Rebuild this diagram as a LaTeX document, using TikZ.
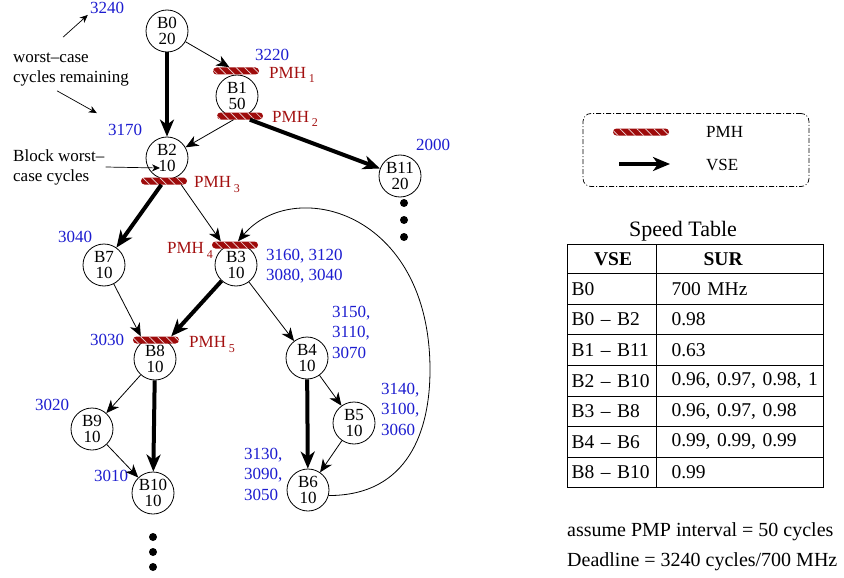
\documentclass[tikz,border=0pt]{standalone}
\usepackage{fontspec}
\setmainfont{Liberation Serif}
\usetikzlibrary{arrows.meta,positioning,patterns.meta,matrix}
\definecolor{PmhRed}{HTML}{9E0B0B}
\definecolor{PmhText}{HTML}{A31010}
\definecolor{CycleBlue}{HTML}{1C1CCF}
\newcommand{\pmh}[1]{PMH\,\raisebox{-5pt}{\fontsize{12}{12}\selectfont #1}}

\begin{document}
\begin{tikzpicture}[x=1pt,y=-1pt,
blk/.style={draw,circle,minimum size=42pt,inner sep=0pt,line width=0.8pt,align=center,font=\fontsize{17}{16}\selectfont},
pmhbar/.style={rounded corners=3.5pt,minimum width=46pt,minimum height=7pt,inner sep=0pt,preaction={fill=PmhRed},pattern={Lines[angle=-45,distance=6pt,line width=0.7pt]},pattern color=white!85!PmhRed},
pmhlbl/.style={text=PmhText,font=\fontsize{17}{17}\selectfont,inner sep=1pt},
cyc/.style={text=CycleBlue,font=\fontsize{17}{20.5}\selectfont,inner sep=1pt,align=left},
note/.style={font=\fontsize{17}{20}\selectfont,inner sep=1pt,align=left},
arr/.style={-{Stealth[length=13pt,width=11pt,inset=4pt]},line width=0.8pt},
vse/.style={-{Stealth[length=17pt,width=14pt,inset=5pt]},line width=4pt},
pointer/.style={-{Stealth[length=8pt,width=7pt,inset=2.5pt]},line width=0.7pt}
]
\useasboundingbox (0,0) rectangle (844,578);
% basic blocks
\node[blk] (b0) at (167,31) {B0\\20};
\node[blk] (b1) at (237,96) {B1\\50};
\node[blk] (b2) at (167,158) {B2\\10};
\node[blk] (b11) at (400,176) {B11\\20};
\node[blk] (b7) at (104,265) {B7\\10};
\node[blk] (b3) at (236,265) {B3\\10};
\node[blk] (b8) at (155,359) {B8\\10};
\node[blk] (b4) at (307,358) {B4\\10};
\node[blk] (b9) at (92,429) {B9\\10};
\node[blk] (b5) at (354,423) {B5\\10};
\node[blk] (b10) at (153,493) {B10\\10};
\node[blk] (b6) at (308,490) {B6\\10};
% power management hints
\node[pmhbar] (p1) at (236,71) {};
\node[pmhbar] (p2) at (240,116) {};
\node[pmhbar] (p3) at (164,181) {};
\node[pmhbar] (p4) at (235,245) {};
\node[pmhbar] (p5) at (156,340) {};
\node[pmhlbl,anchor=base west] (lp1) at (268,78) {\pmh{1}};
\node[pmhlbl,anchor=base west] (lp2) at (271,122) {\pmh{2}};
\node[pmhlbl,anchor=base west] (lp3) at (193,187) {\pmh{3}};
\node[pmhlbl,anchor=base east] (lp4) at (214,253) {\pmh{4}};
\node[pmhlbl,anchor=base west] (lp5) at (188,347) {\pmh{5}};
% worst-case cycles remaining
\node[cyc] (l3240) at (107,8) {3240};
\node[cyc] (l3220) at (272,55) {3220};
\node[cyc] (l3170) at (125,130) {3170};
\node[cyc] (l2000) at (433,145) {2000};
\node[cyc] (l3040) at (75,237) {3040};
\node[cyc,anchor=west] (lb3) at (265,266) {3160, 3120\\3080, 3040};
\node[cyc,anchor=west] (lb4) at (331,332) {3150,\\3110,\\3070};
\node[cyc] (l3030) at (107,340) {3030};
\node[cyc] (l3020) at (52,405) {3020};
\node[cyc] (l3010) at (111,476) {3010};
\node[cyc,anchor=west] (lb5) at (380,409) {3140,\\3100,\\3060};
\node[cyc,anchor=west] (lb6) at (243,474) {3130,\\3090,\\3050};
% notes
\node[note,anchor=west] (wcr) at (12,70) {worst--case\\cycles remaining};
\node[note,anchor=west] (bwc) at (12,167) {Block worst--\\case cycles};
\draw[pointer] ([shift={(-8,-15)}]wcr.north) -- ([shift={(-1,0)}]l3240.south west);
\draw[pointer] ([shift={(-14,3)}]wcr.south) -- ([shift={(-10,-10)}]l3170.north west);
\draw[pointer] (bwc.east) -- ([shift={(-7,10)}]b2.center);
% edges
\draw[vse] (b0) -- (b2);
\draw[arr] (b0) -- (p1);
\draw[arr] (p2) -- (b2);
\draw[vse] (p2) -- (b11);
\draw[vse] (p3) -- (b7);
\draw[arr] ([shift={(-6,0)}]p3.south east) -- ([shift={(9,0)}]p4.north west);
\draw[arr] (b7) -- ([shift={(8,0)}]p5.north west);
\draw[vse] (b3) -- ([shift={(-8,0)}]p5.north east);
\draw[arr] (b3) -- (b4);
\draw[arr] (b8) -- (b9);
\draw[vse] (b8) -- (b10);
\draw[arr] (b9) -- (b10);
\draw[vse] (b4) -- (b6);
\draw[arr] (b4) -- (b5);
\draw[arr] (b5) -- (b6);
\coordinate (loopr) at (430,370);
\draw[arr] (b6.-15) .. controls +(80,0) and +(0,60) .. (loopr) .. controls +(0,-160) and +(55,-65) .. ([shift={(3,0)}]p4.north);
% continuation dots
\fill (404,203) circle [radius=4pt];
\fill (404,220) circle [radius=4pt];
\fill (404,237) circle [radius=4pt];
\fill (153,537) circle [radius=4pt];
\fill (153,552) circle [radius=4pt];
\fill (153,567) circle [radius=4pt];
% legend
\node[draw,dash pattern=on 5pt off 2pt on 1pt off 2pt,rounded corners=8pt,minimum width=226pt,minimum height=73pt,line width=0.7pt] (legend) at (696,150) {};
\node[pmhbar,minimum width=56pt] (lpmh) at (641,132) {};
\node[note,anchor=west] (lpmhtxt) at (705,132) {PMH};
\coordinate (lvse0) at (619,164);
\coordinate (lvse1) at (670,164);
\draw[vse] (lvse0) -- (lvse1);
\node[note,anchor=west] (lvsetxt) at (705,165) {VSE};
% speed table
\node[font=\fontsize{22}{22}\selectfont] (title) at (683,231) {Speed Table};
\matrix[matrix of nodes,anchor=north west,inner sep=0pt,column sep=-0.8pt,row sep=-0.8pt,
nodes={draw,line width=0.8pt,minimum height=30.6pt,inner xsep=2pt,inner ysep=0pt,anchor=center,font=\fontsize{19.5}{20}\selectfont,align=left},
column 1/.style={nodes={text width=85pt,execute at begin node=\hspace*{2pt}}},
column 2/.style={nodes={text width=163pt,execute at begin node=\hspace*{13pt}}},
row 1/.style={nodes={minimum height=29pt,align=center,font=\fontsize{19.5}{20}\selectfont\bfseries}}] (speed) at (567,244) {
VSE & |[align=left]| \hspace*{32pt}SUR \\
B0 & 700 MHz \\
B0 -- B2 & 0.98 \\
B1 -- B11 & 0.63 \\
B2 -- B10 & 0.96, 0.97, 0.98, 1 \\
B3 -- B8 & 0.96, 0.97, 0.98 \\
B4 -- B6 & 0.99, 0.99, 0.99 \\
B8 -- B10 & 0.99 \\
};
\node[anchor=west,align=left,font=\fontsize{20}{30}\selectfont,inner sep=0pt] (assume) at (567,547) {assume PMP interval = 50 cycles\\Deadline = 3240 cycles/700 MHz};
\end{tikzpicture}
\end{document}
